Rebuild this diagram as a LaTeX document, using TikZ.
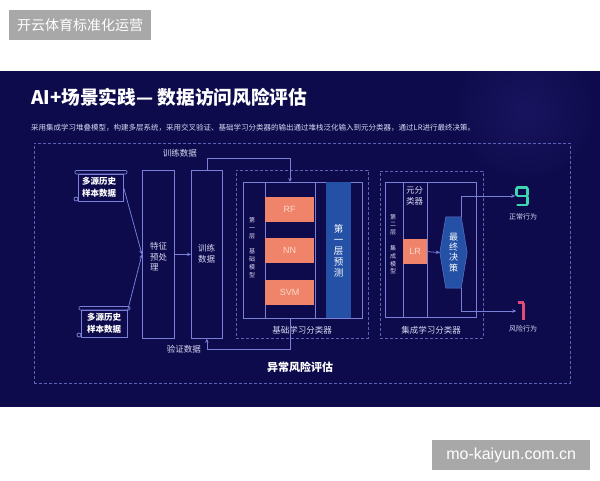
\documentclass[tikz,border=0pt]{standalone}
\usepackage{fontspec}
\setmainfont{Noto Sans CJK SC}
\newfontfamily\latfont{Liberation Sans}
\usetikzlibrary{arrows.meta}
\definecolor{panel}{HTML}{0E0B4D}
\definecolor{glow}{HTML}{18155F}
\definecolor{wmgray}{HTML}{A8A8A8}
\definecolor{linec}{HTML}{7A80D6}
\definecolor{dashc}{HTML}{5C62B6}
\definecolor{txtc}{HTML}{D8D8F2}
\definecolor{orangec}{HTML}{F0846A}
\definecolor{orangetxt}{HTML}{FCD9CC}
\definecolor{bluebar}{HTML}{2451A6}
\definecolor{tealc}{HTML}{3DD5B2}
\definecolor{pinkc}{HTML}{E44A76}
\newcommand\myfs[2]{\fontsize{#1}{#2}\selectfont}
\begin{document}
\begin{tikzpicture}[x=1pt,y=-1pt,
  box/.style={draw=linec, line width=0.75pt, anchor=north west, inner sep=0pt},
  dbox/.style={draw=dashc, dash pattern=on 3pt off 2pt, line width=0.6pt, anchor=north west, inner sep=0pt},
  conn/.style={draw=linec, line width=0.75pt, -{Stealth[length=4pt,width=3.5pt]}},
  lbl/.style={text=txtc, font=\myfs{8.5}{10.5}, inner sep=0pt},
  tiny/.style={text=txtc, font=\myfs{6}{7.8}, inner sep=0pt, align=center},
  obox/.style={fill=orangec, anchor=north west, inner sep=0pt, minimum width=49pt, minimum height=25pt, text=orangetxt, font=\latfont\myfs{9}{9}},
  seg/.style={line width=2.4pt, line cap=round}
]
\useasboundingbox (0,0) rectangle (600,480);
\fill[white] (0,0) rectangle (600,480);
% top tag
\node[fill=wmgray, anchor=north west, inner sep=0pt, minimum width=142pt, minimum height=30pt, text=white, font=\myfs{14}{14}] (tag) at (9,10) {开云体育标准化运营};
% panel
\fill[panel] (0,71) rectangle (600,407);
\begin{scope}
\clip (0,71) rectangle (600,407);
\shade[inner color=glow, outer color=panel] (525,110) circle (70);
\end{scope}
% title
\node[anchor=west, inner sep=0pt, text=white, font=\bfseries\myfs{18.7}{19}] (title) at (31,97) {AI+场景实践— 数据访问风险评估};
\node[anchor=west, inner sep=0pt, text=txtc, font=\myfs{7.5}{7.5}] (sub) at (31,128) {采用集成学习堆叠模型，构建多层系统，采用交叉验证、基础学习分类器的输出通过堆栈泛化输入到元分类器，通过LR进行最终决策。};
% outer dashed
\node[dbox, minimum width=536pt, minimum height=240pt] (outer) at (34,143) {};
% scrolls
\node[box, minimum width=45pt, minimum height=27pt] (src1) at (78,174) {};
\draw[linec, line width=0.75pt, rounded corners=1.2pt] (75,170.5) rectangle (127,174);
\draw[linec, line width=0.75pt] (76,199) circle (2);
\node[lbl, font=\bfseries\myfs{8.5}{11.5}, text=white, align=center] (src1t) at (99,187.5) {多源历史\\样本数据};
\node[box, minimum width=46pt, minimum height=27pt] (src2) at (81,310) {};
\draw[linec, line width=0.75pt, rounded corners=1.2pt] (79,306.5) rectangle (130,310);
\draw[linec, line width=0.75pt] (79,335) circle (2);
\node[lbl, font=\bfseries\myfs{8.5}{11.5}, text=white, align=center] (src2t) at (104,323.5) {多源历史\\样本数据};
% feature and train
\node[box, minimum width=32pt, minimum height=168pt] (feat) at (142,170) {};
\node[lbl, anchor=west, align=left] (featt) at (150,257) {特征\\预处\\理};
\node[box, minimum width=31pt, minimum height=168pt] (train) at (191,170) {};
\node[lbl, align=center] (traint) at (206.5,254) {训练\\数据};
\draw[conn] (src1.east) -- (feat.west);
\draw[conn] (src2.north east) -- (feat.west);
\draw[conn] (feat.east) -- (train.west);
% base classifier
\node[dbox, minimum width=132pt, minimum height=168pt] (basd) at (236,170) {};
\node[box, minimum width=119pt, minimum height=136pt] (basi) at (243,182) {};
\draw[linec, line width=0.75pt] (265,182) -- (265,318) (315,182) -- (315,318);
\node[fill=bluebar, anchor=north west, inner sep=0pt, minimum width=25pt, minimum height=136pt] (l1p) at (326,182) {};
\node[text=white, font=\myfs{9.5}{11}, align=center, inner sep=0pt] (l1pt) at (338.5,251) {第\\一\\层\\预\\测};
\node[tiny] (l1m) at (252,247.5) {第\\一\\层\\[8pt]基\\础\\模\\型};
\node[obox] (rf) at (265,197) {RF};
\node[obox] (nn) at (265,238) {NN};
\node[obox] (svm) at (265,280) {SVM};
\node[lbl] (basl) at (302,330) {基础学习分类器};
% train/validation connectors
\coordinate (tA) at (290,158);
\coordinate (vA) at (290,349);
\draw[conn] (train.north) |- (tA) -- (tA |- basi.north);
\draw[conn] (vA |- basi.south) -- (vA) -| (train.south);
\node[lbl, anchor=east] (trl) at (197,153) {训练数据};
\node[lbl, anchor=east] (val) at (201,349) {验证数据};
% meta classifier
\node[dbox, minimum width=103pt, minimum height=167pt] (metd) at (380,171) {};
\node[box, minimum width=91pt, minimum height=135pt] (meti) at (385,182) {};
\draw[linec, line width=0.75pt] (403,182) -- (403,317) (427,182) -- (427,317);
\node[lbl, anchor=west, align=left] (metat) at (406,196) {元分\\类器};
\node[tiny] (l2m) at (393,244) {第\\二\\层\\[8pt]集\\成\\模\\型};
\node[obox, minimum width=24pt] (lr) at (403,239) {LR};
\node[lbl] (metl) at (431,330) {集成学习分类器};
% decision hexagon
\node[inner sep=0pt, minimum width=27pt, minimum height=71pt] (dec) at (453.5,252.5) {};
\draw[fill=bluebar, draw=linec!70!bluebar, line width=0.5pt] (dec.west) -- ([xshift=6pt]dec.north west) -- ([xshift=-6pt]dec.north east) -- (dec.east) -- ([xshift=-6pt]dec.south east) -- ([xshift=6pt]dec.south west) -- cycle;
\node[text=white, font=\myfs{9}{10.4}, align=center, inner sep=0pt] (dect) at (453.5,252.5) {最\\终\\决\\策};
\draw[conn] (lr.east) -- (dec.west);
% outputs
\node[inner sep=0pt, minimum width=14pt, minimum height=19pt] (n9) at (522.5,196) {};
\node[inner sep=0pt, minimum width=8pt, minimum height=19pt] (n1) at (520.5,311) {};
\draw[conn] ([xshift=-6pt]dec.north east) |- (n9.west);
\draw[conn] ([xshift=-6pt]dec.south east) |- (n1.west);
\draw[tealc, seg] (517,187.5) -- (527,187.5) (516.5,188.5) -- (516.5,195) (527.5,188.5) -- (527.5,195) (517.5,196) -- (527,196) (527.5,197) -- (527.5,204) (517.5,205) -- (527,205);
\draw[pinkc, seg, line cap=butt] (518,302.5) -- (523.5,302.5) (523.5,302.5) -- (523.5,320);
\node[lbl, font=\myfs{7}{7}] (okl) at (523,217) {正常行为};
\node[lbl, font=\myfs{7}{7}] (riskl) at (523,329) {风险行为};
% bottom label
\node[text=white, font=\bfseries\myfs{11}{11}, inner sep=0pt] (anom) at (300,367) {异常风险评估};
% watermark
\node[fill=wmgray, anchor=north west, inner sep=0pt, minimum width=158pt, minimum height=30pt, text=white, font=\latfont\myfs{16}{16}] (wm) at (432,440) {mo-kaiyun.com.cn};
\end{tikzpicture}
\end{document}
